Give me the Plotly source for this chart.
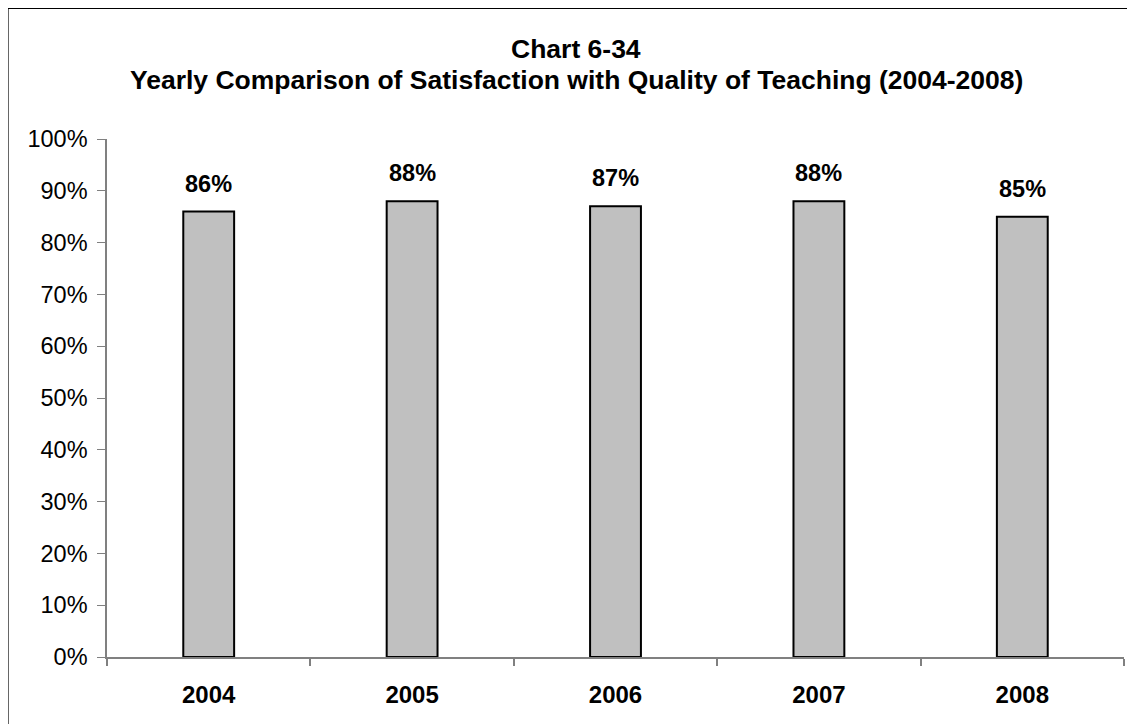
import plotly.graph_objects as go

years = ["2004", "2005", "2006", "2007", "2008"]
satisfaction = [0.86, 0.88, 0.87, 0.88, 0.85]
labels = ["86%", "88%", "87%", "88%", "85%"]
title_line1 = "Chart 6-34"
title_line2 = "Yearly Comparison of Satisfaction with Quality of Teaching (2004-2008)"

W, H = 1135, 724
L, R, T, B = 99, 19, 131, 75
pw, ph = W - L - R, H - T - B

def px_x(x):
    return (x - L) / pw

def px_y(y):
    return (H - B - y) / ph

FONT = "Liberation Sans, Arial, sans-serif"

fig = go.Figure()
fig.add_trace(go.Bar(
    x=years, y=satisfaction, width=0.25,
    marker=dict(color="#C0C0C0", line=dict(color="black", width=2)),
    hoverinfo="skip",
))

for i, (v, lab) in enumerate(zip(satisfaction, labels)):
    fig.add_annotation(x=i, y=v, text="<b>%s</b>" % lab, showarrow=False,
                       xref="x", yref="y",
                       yanchor="bottom", yshift=13,
                       font=dict(family=FONT, size=23.5, color="black"))

fig.add_annotation(xref="paper", yref="paper", x=px_x(568), y=px_y(41),
                   text="<b>%s</b>" % title_line1, showarrow=False,
                   xanchor="center", yanchor="middle",
                   font=dict(family=FONT, size=26.5, color="black"))
fig.add_annotation(xref="paper", yref="paper", x=px_x(568), y=px_y(72),
                   text="<b>%s</b>" % title_line2, showarrow=False,
                   xanchor="center", yanchor="middle",
                   font=dict(family=FONT, size=26.5, color="black"))

# outer chart border (figure edge; right/bottom fall outside the window)
fig.add_shape(type="rect", xref="paper", yref="paper",
              x0=px_x(0), x1=px_x(W + 20), y0=px_y(H + 20), y1=px_y(0.5),
              line=dict(color="black", width=1.2), fillcolor="rgba(0,0,0,0)", layer="below")

fig.update_layout(
    width=W, height=H,
    margin=dict(l=L, r=R, t=T, b=B),
    paper_bgcolor="white", plot_bgcolor="white",
    showlegend=False,
    font=dict(family=FONT, color="black"),
)
fig.update_xaxes(
    type="category", range=[-0.5, 4.5], autorange=False, automargin=False,
    showline=True, linecolor="#808080", linewidth=2,
    ticks="outside", ticklen=7, tickcolor="#808080", tickwidth=1.5,
    tickson="boundaries", showgrid=False, tickangle=0,
    tickfont=dict(family=FONT, size=24, color="black", weight="bold"),
    ticklabelstandoff=15,
)
fig.update_yaxes(
    range=[0, 1], autorange=False, automargin=False, dtick=0.1, tickformat=".0%",
    showline=True, linecolor="#808080", linewidth=1.5,
    ticks="outside", ticklen=8, tickcolor="#808080", tickwidth=1.2,
    showgrid=False, zeroline=False,
    tickfont=dict(family=FONT, size=23.5, color="black"),
    ticklabelstandoff=5,
)

fig.write_html("out.html")
